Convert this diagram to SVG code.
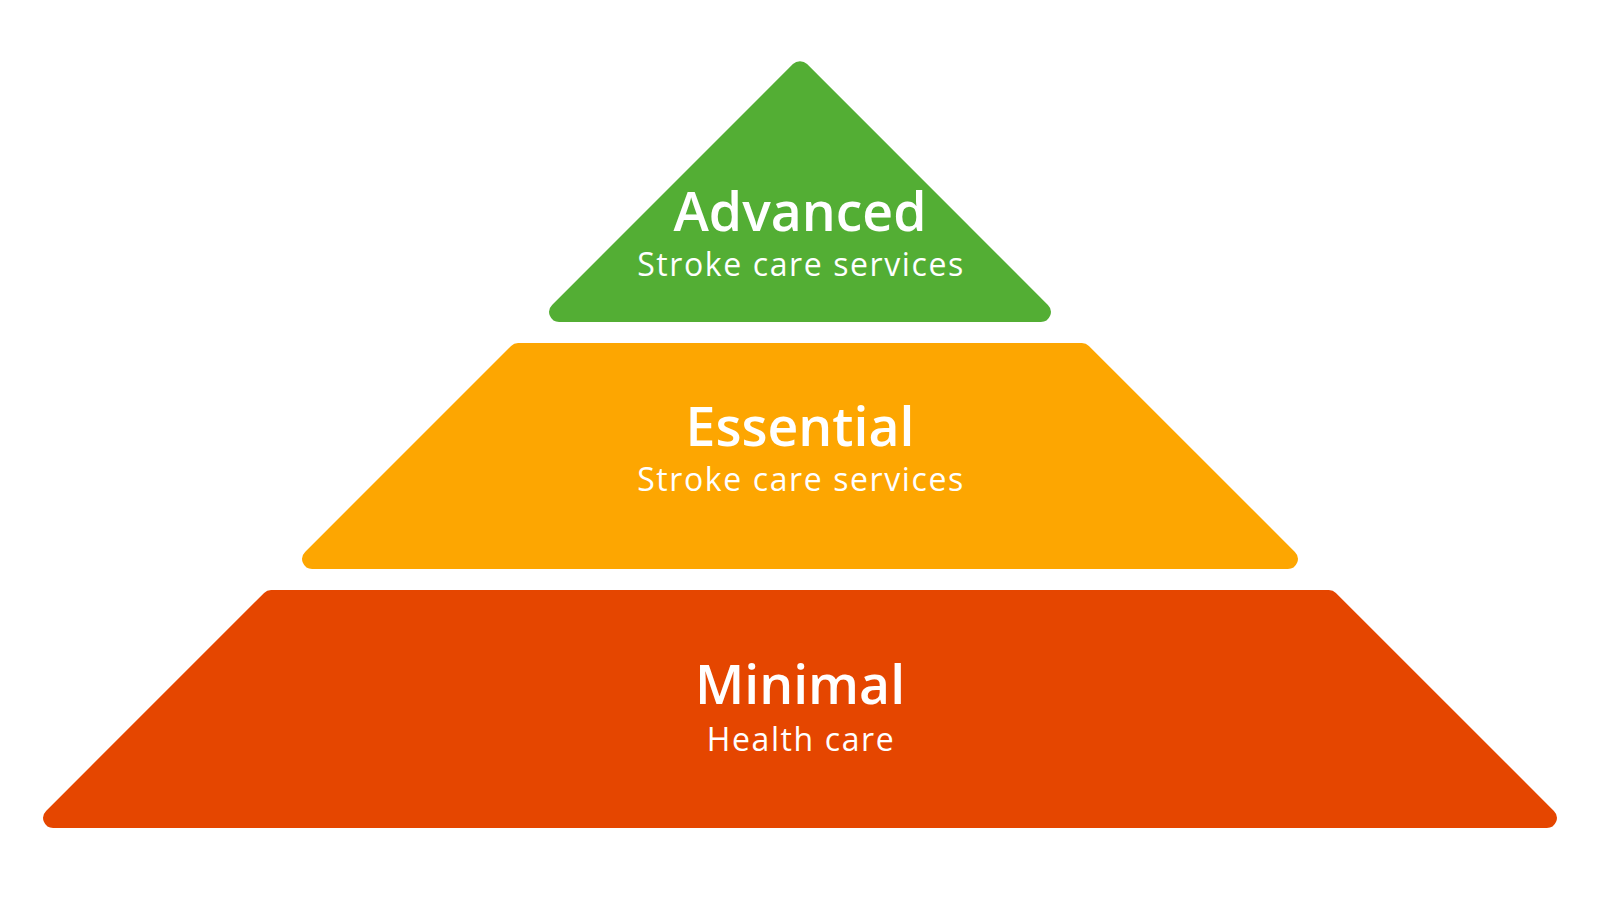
<svg xmlns="http://www.w3.org/2000/svg" width="1600" height="900" viewBox="0 0 1600 900">
  <style>
    .title { font-family: "Open Sans", "Noto Sans", "Liberation Sans", sans-serif; font-weight: 600; font-size: 53.5px; fill: #ffffff; text-anchor: middle; }
    .sub { font-family: "Open Sans", "Noto Sans", "Liberation Sans", sans-serif; font-weight: 400; font-size: 32px; letter-spacing: 1.6px; fill: #ffffff; text-anchor: middle; }
  </style>
  <rect x="0" y="0" width="1600" height="900" fill="#ffffff"/>
  <g id="advanced">
    <path fill="#53AE34" d="M 792.93 64.07 A 10 10 0 0 1 807.07 64.07 L 1047.93 304.93 A 10 10 0 0 1 1040.86 322 L 559.14 322 A 10 10 0 0 1 552.07 304.93 Z"/>
    <text class="title" x="800" y="231">Advanced</text>
    <text class="sub" x="801" y="276">Stroke care services</text>
  </g>
  <g id="essential">
    <path fill="#FDA601" d="M 511.07 345.93 A 10 10 0 0 1 518.14 343 L 1081.86 343 A 10 10 0 0 1 1088.93 345.93 L 1294.93 551.93 A 10 10 0 0 1 1287.86 569 L 312.14 569 A 10 10 0 0 1 305.07 551.93 Z"/>
    <text class="title" x="800" y="446">Essential</text>
    <text class="sub" x="801" y="491">Stroke care services</text>
  </g>
  <g id="minimal">
    <path fill="#E54600" d="M 264.07 592.93 A 10 10 0 0 1 271.14 590 L 1328.86 590 A 10 10 0 0 1 1335.93 592.93 L 1553.93 810.93 A 10 10 0 0 1 1546.86 828 L 53.14 828 A 10 10 0 0 1 46.07 810.93 Z"/>
    <text class="title" x="800" y="704">Minimal</text>
    <text class="sub" x="801" y="751">Health care</text>
  </g>
</svg>
